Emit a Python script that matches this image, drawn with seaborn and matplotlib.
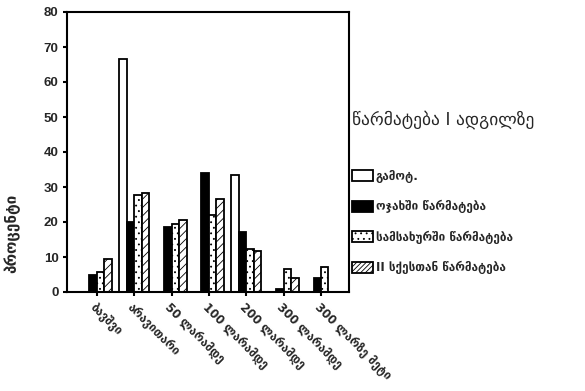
"""
Grouped bar chart: success in first place by income group
"""

import matplotlib

matplotlib.use("Agg")
import matplotlib.pyplot as plt  # type: ignore
import pandas as pd
import seaborn as sns  # type: ignore
from matplotlib.patches import Patch

categories = [
    "ბავშვი",
    "არავითარი",
    "50 ლარამდე",
    "100 ლარამდე",
    "200 ლარამდე",
    "300 ლარამდე",
    "300 ლარზე მეტი",
]
series = [
    "გამოტ.",
    "ოჯახში წარმატება",
    "სამსახურში წარმატება",
    "II სქესთან წარმატება",
]
absent = [0, 66.6, 0, 0, 33.4, 0, 0]
family = [4.8, 20, 18.6, 33.9, 17.2, 0.9, 4.0]
work = [5.7, 27.8, 19.3, 22, 12.2, 6.5, 7.2]
opposite_sex = [9.5, 28.4, 20.7, 26.5, 11.6, 4.0, 0]

legend_title = "წარმატება I ადგილზე"
y_label = "პროცენტი"
y_ticks = [0, 10, 20, 30, 40, 50, 60, 70, 80]


def main() -> None:
    rows = []
    for name, values in zip(series, [absent, family, work, opposite_sex]):
        for cat, v in zip(categories, values):
            rows.append({"cat": cat, "series": name, "value": v})
    df = pd.DataFrame(rows)

    sns.set_style("white")
    plt.rcParams["font.family"] = ["DejaVu Sans"]
    plt.rcParams["hatch.linewidth"] = 0.6

    fig = plt.figure(figsize=(5.85, 3.91), dpi=100)
    ax = fig.add_axes([67 / 585, 1 - 292 / 391, (349 - 67) / 585, 280 / 391])

    ax = sns.barplot(
        data=df, x="cat", y="value", hue="series", order=categories,
        hue_order=series, palette=["white"] * 4, width=0.8, legend=False,
        ax=ax, saturation=1,
    )

    styles = [
        {"facecolor": "white", "hatch": None},
        {"facecolor": "black", "hatch": None},
        {"facecolor": "white", "hatch": "..."},
        {"facecolor": "white", "hatch": "////"},
    ]
    for container, st in zip(ax.containers, styles):
        for bar in container:
            bar.set_facecolor(st["facecolor"])
            bar.set_edgecolor("black")
            bar.set_linewidth(1.3)
            if st["hatch"]:
                bar.set_hatch(st["hatch"])

    ax.set_xlim(-0.8, 6.75)
    ax.set_ylim(0, 80)
    ax.set_yticks(y_ticks)
    ax.set_yticklabels([str(t) for t in y_ticks], fontsize=9.5, fontweight="bold",
                       family="Liberation Sans")
    ax.set_xticks(range(len(categories)))
    ax.set_xticklabels(categories, rotation=-45, ha="left", rotation_mode="anchor",
                       fontsize=8.5, fontweight="bold")
    ax.tick_params(axis="both", direction="out", length=3, width=1.5, color="black",
                   bottom=True, left=True, pad=3)
    for s in ax.spines.values():
        s.set_color("black")
        s.set_linewidth(1.5)

    ax.set_xlabel("")
    ax.set_ylabel(y_label, fontsize=11, fontweight="bold")
    ax.yaxis.set_label_coords(-0.165, 0.21)

    fig.text(352 / 585, 1 - 120 / 391, legend_title, fontsize=12.5,
             va="center", ha="left")

    handles = [
        Patch(facecolor=st["facecolor"], edgecolor="black", linewidth=1.3,
              hatch=st["hatch"])
        for st in styles
    ]
    handles[3] = Patch(facecolor="white", edgecolor="black", linewidth=1.3,
                       hatch="///////")
    ax.legend(
        handles, series, loc="upper left",
        bbox_to_anchor=(352 / 585, 1 - 170 / 391), bbox_transform=fig.transFigure,
        frameon=False, prop={"size": 8.5, "weight": "bold"},
        handlelength=1.8, handleheight=1.05, labelspacing=1.45,
        handletextpad=0.2, borderpad=0, borderaxespad=0,
    )

    fig.savefig("out.png", dpi=100)


if __name__ == "__main__":
    main()
